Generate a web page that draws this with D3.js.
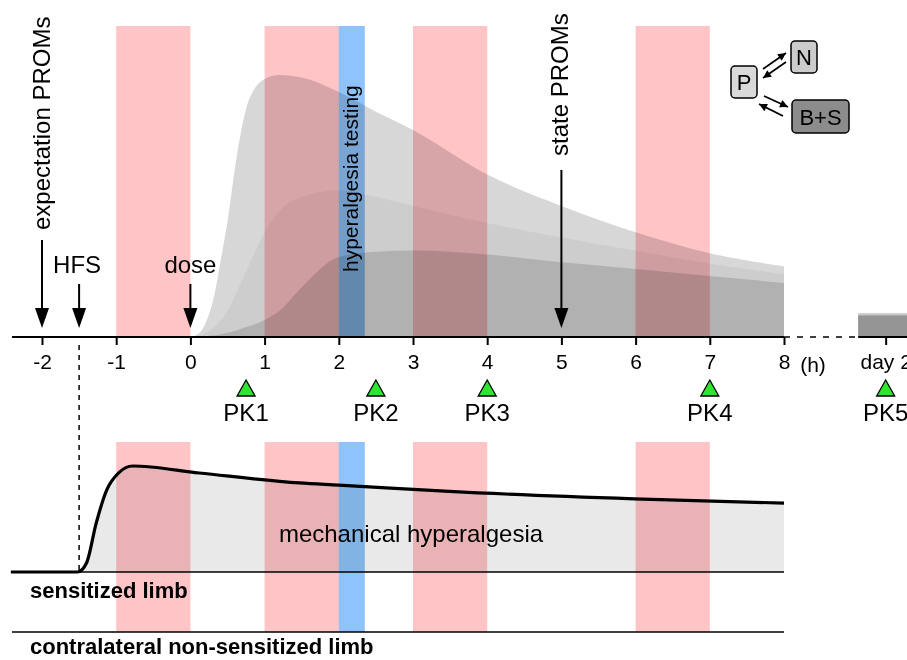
<!DOCTYPE html>
<html>
<head>
<meta charset="utf-8">
<script src="https://cdn.jsdelivr.net/npm/d3@7"></script>
<style>
  body { margin: 0; background: #fff; }
  svg { display: block; font-family: "Liberation Sans", Arial, sans-serif; }
</style>
</head>
<body>
<div id="chart"></div>
<script>
// ---- data ----
const hourTicks = [-2, -1, 0, 1, 2, 3, 4, 5, 6, 7, 8];
const day2At = 9.37;            // position of the "day 2" break on the time axis
const day2Span = [9.0, 9.9];
const sessions = [[-1, 0], [1, 2], [3, 4], [6, 7]];
const testing = [2, 2.35];

const pkTimes = [0.75, 2.5, 4, 7, day2At];
const pkLabels = ["PK1", "PK2", "PK3", "PK4", "PK5"];

// plasma levels (arbitrary units) after dosing
const concTimes = [0, 0.12, 0.2, 0.33, 0.4, 0.5, 0.62, 0.75, 0.88, 1.0, 1.2, 1.5, 2, 2.5, 3, 4, 5, 6, 7, 8];
const levelP  = [0, 1.5, 5, 17, 28, 44, 68, 87, 95.4, 98.5, 100, 99, 93.5, 86, 79, 62, 50, 40, 32, 27];
const levelN  = [0, 0.5, 1.5, 4, 6, 10, 17, 25, 33, 40, 48, 53.5, 56, 53.5, 50, 43.5, 38, 33, 28, 24];
const levelBS = [0, 0.1, 0.3, 0.7, 1, 1.6, 2.5, 3.8, 5, 6.5, 10, 19, 30.5, 32.5, 33, 31.5, 28.5, 26, 23.3, 20.6];
const day2Levels = [9.2, 8.7, 8.2];

// mechanical hyperalgesia on the sensitized limb
const hypTimes  = [-2.42, -1.52, -1.4, -1.27, -1.13, -0.96, -0.78, 0.12, 1.47, 2.0, 3.49, 5.98, 8];
const hypValues = [0, 0, 8.5, 46, 77, 94, 100, 93.4, 84, 82, 76, 69, 65];

const events = ["expectation PROMs", "HFS", "dose", "state PROMs"];
const eventTimes = [-2, -1.5, 0, 5];

// ---- layout ----
const W = 907, H = 660;
const axisY = 337;
const pink = "#ffc4c6", blue = "#8ec4fb";

const svg = d3.select("#chart").append("svg")
  .attr("width", W).attr("height", H);

const x = d3.scaleLinear().domain([-2, 8]).range([42, 784]);
const yTop = d3.scaleLinear().domain([0, 100]).range([axisY, 75]);
const yLow = d3.scaleLinear().domain([0, 100]).range([572, 466]);

const defs = svg.append("defs");
defs.append("marker")
  .attr("id", "head")
  .attr("viewBox", "0 0 10 10")
  .attr("refX", 10).attr("refY", 5)
  .attr("markerWidth", 11).attr("markerHeight", 8)
  .attr("markerUnits", "userSpaceOnUse")
  .attr("orient", "auto")
  .append("path").attr("d", "M0,0L10,5L0,10Z").attr("fill", "#000");

// ---- PK curves ----
const layers = [
  { vals: levelP, fill: "#d7d7d7", d2: "#d7d7d7" },
  { vals: levelN, fill: "#cdcdcd", d2: "#c2c2c2" },
  { vals: levelBS, fill: "#b1b1b1", d2: "#959595" }
];
layers.forEach((L, i) => {
  const area = d3.area()
    .x((d, j) => x(concTimes[j]))
    .y0(axisY)
    .y1(d => yTop(d))
    .curve(d3.curveMonotoneX);
  svg.append("path").datum(L.vals).attr("d", area).attr("fill", L.fill);
  svg.append("rect")
    .attr("x", x(day2Span[0]))
    .attr("y", yTop(day2Levels[i]))
    .attr("width", x(day2Span[1]) - x(day2Span[0]))
    .attr("height", axisY - yTop(day2Levels[i]))
    .attr("fill", L.d2);
});

// ---- hyperalgesia curve (lower panel) ----
const hypArea = d3.area()
  .x((d, j) => x(hypTimes[j]))
  .y0(yLow(0)).y1(d => yLow(d))
  .curve(d3.curveMonotoneX);
svg.append("path").datum(hypValues).attr("d", hypArea).attr("fill", "#e9e9e9");

// ---- session bands (multiply over the curves) ----
const bandRows = [[26, axisY], [442, 632]];
bandRows.forEach(([y0, y1]) => {
  sessions.forEach(s => {
    svg.append("rect")
      .attr("x", x(s[0])).attr("y", y0)
      .attr("width", x(s[1]) - x(s[0])).attr("height", y1 - y0)
      .attr("fill", pink).style("mix-blend-mode", "multiply");
  });
  svg.append("rect")
    .attr("x", x(testing[0])).attr("y", y0)
    .attr("width", x(testing[1]) - x(testing[0])).attr("height", y1 - y0)
    .attr("fill", blue).style("mix-blend-mode", "multiply");
});

svg.append("path").datum(hypValues)
  .attr("d", d3.line().x((d, j) => x(hypTimes[j])).y(d => yLow(d)).curve(d3.curveMonotoneX))
  .attr("fill", "none").attr("stroke", "#000").attr("stroke-width", 3.2);

// limb baselines
svg.append("line").attr("x1", 12).attr("x2", x(8)).attr("y1", 572).attr("y2", 572)
  .attr("stroke", "#000").attr("stroke-width", 1.6);
svg.append("line").attr("x1", 12).attr("x2", x(8)).attr("y1", 632).attr("y2", 632)
  .attr("stroke", "#000").attr("stroke-width", 1.6);

svg.append("text").attr("x", 30).attr("y", 598)
  .attr("font-size", 22).attr("font-weight", "bold").text("sensitized limb");
svg.append("text").attr("x", 30).attr("y", 654)
  .attr("font-size", 22).attr("font-weight", "bold").text("contralateral non-sensitized limb");
svg.append("text").attr("x", 411).attr("y", 542).attr("text-anchor", "middle")
  .attr("font-size", 24).text("mechanical hyperalgesia");

// ---- time axis ----
const axis = svg.append("g")
  .attr("transform", `translate(0,${axisY})`)
  .call(d3.axisBottom(x)
    .tickValues(hourTicks.concat([day2At]))
    .tickFormat(d => d === day2At ? "day 2" : d)
    .tickSize(8).tickPadding(9));
axis.select(".domain").remove();
axis.selectAll(".tick line").attr("stroke-width", 2);
axis.selectAll(".tick text").attr("font-size", 21).attr("font-family", null).attr("fill", "#000");

svg.append("line").attr("x1", 12).attr("x2", x(8)).attr("y1", axisY).attr("y2", axisY)
  .attr("stroke", "#000").attr("stroke-width", 2);
svg.append("line").attr("x1", x(8)).attr("x2", x(day2Span[0])).attr("y1", axisY).attr("y2", axisY)
  .attr("stroke", "#000").attr("stroke-width", 1.6).attr("stroke-dasharray", "6,7");
svg.append("line").attr("x1", x(day2Span[0])).attr("x2", W).attr("y1", axisY).attr("y2", axisY)
  .attr("stroke", "#000").attr("stroke-width", 2);
svg.append("text").attr("x", 813).attr("y", 372).attr("text-anchor", "middle")
  .attr("font-size", 21).text("(h)");

// HFS dashed marker down to the lower panel
svg.append("line").attr("x1", x(-1.5)).attr("x2", x(-1.5))
  .attr("y1", axisY + 8).attr("y2", 572)
  .attr("stroke", "#000").attr("stroke-width", 1.5).attr("stroke-dasharray", "5,5");

// ---- event arrows ----
function arrow(cx, yStart, yTip) {
  svg.append("line").attr("x1", cx).attr("x2", cx).attr("y1", yStart).attr("y2", yTip - 16)
    .attr("stroke", "#000").attr("stroke-width", 2);
  svg.append("path")
    .attr("d", `M${cx - 7},${yTip - 20}L${cx + 7},${yTip - 20}L${cx},${yTip}Z`)
    .attr("fill", "#000");
}
const tip = 328;
arrow(x(eventTimes[0]), 240, tip);
svg.append("text").attr("transform", `translate(${x(eventTimes[0]) + 8},230) rotate(-90)`)
  .attr("font-size", 24).text(events[0]);
arrow(x(eventTimes[1]), 284, tip);
svg.append("text").attr("x", x(eventTimes[1]) - 2).attr("y", 273).attr("text-anchor", "middle")
  .attr("font-size", 24).text(events[1]);
arrow(x(eventTimes[2]), 284, tip);
svg.append("text").attr("x", x(eventTimes[2])).attr("y", 273).attr("text-anchor", "middle")
  .attr("font-size", 24).text(events[2]);
arrow(x(eventTimes[3]), 170, tip);
svg.append("text").attr("transform", `translate(${x(eventTimes[3]) + 7},156) rotate(-90)`)
  .attr("font-size", 24).text(events[3]);

svg.append("text")
  .attr("transform", `translate(${(x(testing[0]) + x(testing[1])) / 2 + 6},272) rotate(-90)`)
  .attr("font-size", 21).text("hyperalgesia testing");

// ---- PK sampling markers ----
pkTimes.forEach((t, i) => {
  const cx = x(t);
  svg.append("path")
    .attr("d", `M${cx - 9},396L${cx + 9},396L${cx},380Z`)
    .attr("fill", "#2ee62e").attr("stroke", "#000").attr("stroke-width", 1.3);
  svg.append("text").attr("x", cx).attr("y", 421).attr("text-anchor", "middle")
    .attr("font-size", 24).text(pkLabels[i]);
});

// ---- compartment legend ----
const boxes = [
  { label: "P", x: 731, y: 66, w: 26, h: 32, fill: "#d9d9d9" },
  { label: "N", x: 791, y: 41, w: 26, h: 32, fill: "#cccccc" },
  { label: "B+S", x: 792, y: 100, w: 57, h: 33, fill: "#8c8c8c" }
];
boxes.forEach(b => {
  svg.append("rect").attr("x", b.x).attr("y", b.y).attr("width", b.w).attr("height", b.h)
    .attr("rx", 4).attr("fill", b.fill).attr("stroke", "#000").attr("stroke-width", 1.5);
  svg.append("text").attr("x", b.x + b.w / 2).attr("y", b.y + b.h / 2 + 8)
    .attr("text-anchor", "middle").attr("font-size", 22).text(b.label);
});
const links = [
  [763, 69, 786, 53], [786, 62, 763, 78],
  [764, 96, 788, 107], [783, 116, 759, 104]
];
links.forEach(l => {
  svg.append("line").attr("x1", l[0]).attr("y1", l[1]).attr("x2", l[2]).attr("y2", l[3])
    .attr("stroke", "#000").attr("stroke-width", 1.8).attr("marker-end", "url(#head)");
});
</script>
</body>
</html>
